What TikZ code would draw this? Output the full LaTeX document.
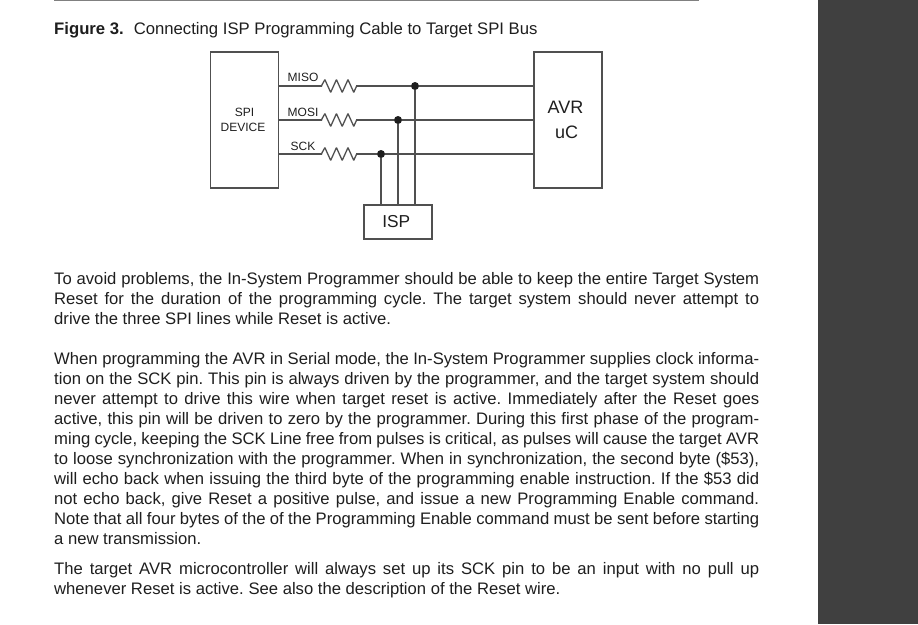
\documentclass[tikz,border=0pt]{standalone}
\usepackage{fontspec}
\setmainfont{Liberation Sans}
\usepackage[american,cuteinductors,smartlabels]{circuitikz}
\frenchspacing

\definecolor{wirecol}{HTML}{505050}
\definecolor{textcol}{HTML}{1E1E1E}
\definecolor{panelcol}{HTML}{404040}

\tikzset{
  chipbox/.style={draw=wirecol, line width=1.3pt, minimum width=68pt, inner sep=0pt, text=textcol, align=center},
  wire/.style={draw=wirecol, line width=1.3pt},
  joint/.style={circle, fill=textcol, minimum size=8pt, inner sep=0pt},
  siglabel/.style={text=textcol, font=\fontsize{12}{14}\selectfont, inner sep=0pt},
  bodytext/.style={anchor=north west, inner sep=0pt, text width=705pt, align=justify, text=textcol, font=\fontsize{16.65}{20}\selectfont}
}
\ctikzset{bipoles/length=42.5pt, bipoles/thickness=1}

\begin{document}
\begin{tikzpicture}[x=1pt, y=-1pt]
\useasboundingbox (0,0) rectangle (918,624);

\fill[panelcol] (818,0) rectangle (918,624);
\draw[gray, line width=1.2pt] (54,0) -- (699,0);

\node[anchor=base west, inner sep=0pt, text=textcol, font=\fontsize{16.7}{20}\selectfont] (caption) at (54,34) {\textbf{Figure 3.}\hspace{10pt}Connecting ISP Programming Cable to Target SPI Bus};

\node[chipbox, minimum height=136pt, font=\fontsize{12}{15}\selectfont] (spi) at (244.5,120) {SPI\\DEVICE\hspace*{3pt}};
\node[chipbox, minimum height=136pt, font=\fontsize{18}{25}\selectfont] (avr) at (568,120) {AVR\hspace*{5pt}\\uC\hspace*{3pt}};
\node[chipbox, minimum height=34pt, font=\fontsize{17.3}{22}\selectfont] (isp) at (398,222) {ISP\hspace*{3.5pt}};

\node[joint] (jmiso) at (415,86) {};
\node[joint] (jmosi) at (398,120) {};
\node[joint] (jsck) at (381,154) {};

\foreach \sig/\y/\jn in {miso/86/jmiso, mosi/120/jmosi, sck/154/jsck} {
  \coordinate (\sig a) at (322,\y);
  \coordinate (\sig b) at (356,\y);
  \draw[wire] (spi.east |- \sig a) -- (\sig a);
  \draw[color=wirecol, line width=1.3pt] (\sig a) to[R] (\sig b);
  \draw[wire] (\sig b) -- (\jn);
  \draw[wire] (\jn) -- (avr.west |- \jn);
  \draw[wire] (\jn) -- (isp.north -| \jn);
}

\node[siglabel] (lmiso) at (303,77) {MISO};
\node[siglabel] (lmosi) at (303,112) {MOSI};
\node[siglabel] (lsck) at (303,146) {SCK};

\node[bodytext] (para1) at (54,272) {To avoid problems, the In-System Programmer should be able to keep the entire Target System\linebreak
Reset for the duration of the programming cycle. The target system should never attempt to\linebreak
drive the three SPI lines while Reset is active.};

\node[bodytext] (para2) at (54,352) {When programming the AVR in Serial mode, the In-System Programmer supplies clock informa-\linebreak
tion on the SCK pin. This pin is always driven by the programmer, and the target system should\linebreak
never attempt to drive this wire when target reset is active. Immediately after the Reset goes\linebreak
active, this pin will be driven to zero by the programmer. During this first phase of the program-\linebreak
ming cycle, keeping the SCK Line free from pulses is critical, as pulses will cause the target AVR\linebreak
to loose synchronization with the programmer. When in synchronization, the second byte (\$53),\linebreak
will echo back when issuing the third byte of the programming enable instruction. If the \$53 did\linebreak
not echo back, give Reset a positive pulse, and issue a new Programming Enable command.\linebreak
Note that all four bytes of the of the Programming Enable command must be sent before starting\linebreak
a new transmission.};

\node[bodytext] (para3) at (54,562) {The target AVR microcontroller will always set up its SCK pin to be an input with no pull up\linebreak
whenever Reset is active. See also the description of the Reset wire.};

\end{tikzpicture}
\end{document}
